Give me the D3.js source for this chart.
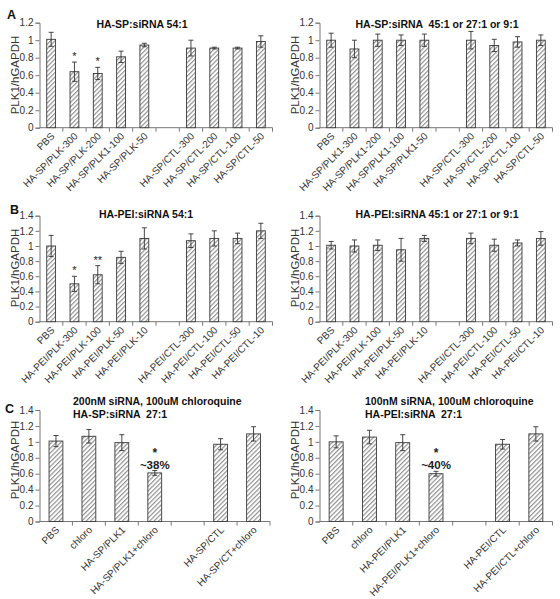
<!DOCTYPE html>
<html><head><meta charset="utf-8">
<script src="https://cdn.jsdelivr.net/npm/d3@7"></script>
<style>
body{margin:0;background:#fff;}
svg{display:block;font-family:"Liberation Sans",Arial,sans-serif;}
text{white-space:pre;}
</style></head>
<body><svg id="chart" width="560" height="599"></svg>
<script>
// ---------- data ----------
const catsA1 = ["PBS","HA-SP/PLK-300","HA-SP/PLK-200","HA-SP/PLK1-100","HA-SP/PLK-50","","HA-SP/CTL-300","HA-SP/CTL-200","HA-SP/CTL-100","HA-SP/CTL-50"];
const valsA1 = [1.01,0.64,0.62,0.81,0.945,null,0.91,0.91,0.91,0.985];
const errA1  = [0.08,0.11,0.07,0.065,0.02,null,0.09,0.01,0.01,0.065];
const starsA1 = ["","*","*","","","","","","",""];

const catsA2 = ["PBS","HA-SP/PLK1-300","HA-SP/PLK1-200","HA-SP/PLK1-100","HA-SP/PLK1-50","","HA-SP/CTL-300","HA-SP/CTL-200","HA-SP/CTL-100","HA-SP/CTL-50"];
const valsA2 = [1.0,0.9,1.0,1.0,1.0,null,1.0,0.94,0.98,1.0];
const errA2  = [0.08,0.1,0.07,0.06,0.07,null,0.1,0.07,0.06,0.06];
const starsA2 = ["","","","","","","","","",""];

const catsB1 = ["PBS","HA-PEI/PLK-300","HA-PEI/PLK-100","HA-PEI/PLK-50","HA-PEI/PLK-10","","HA-PEI/CTL-300","HA-PEI/CTL-100","HA-PEI/CTL-50","HA-PEI/CTL-10"];
const valsB1 = [1.0,0.5,0.62,0.85,1.1,null,1.07,1.1,1.1,1.2];
const errB1  = [0.14,0.1,0.12,0.08,0.14,null,0.09,0.1,0.07,0.1];
const starsB1 = ["","*","**","","","","","","",""];

const catsB2 = ["PBS","HA-PEI/PLK-300","HA-PEI/PLK-100","HA-PEI/PLK-50","HA-PEI/PLK-10","","HA-PEI/CTL-300","HA-PEI/CTL-100","HA-PEI/CTL-50","HA-PEI/CTL-10"];
const valsB2 = [1.01,1.0,1.01,0.95,1.1,null,1.1,1.01,1.04,1.1];
const errB2  = [0.05,0.08,0.07,0.15,0.04,null,0.07,0.08,0.04,0.09];
const starsB2 = ["","","","","","","","","",""];

const catsC1 = ["PBS","chloro","HA-SP/PLK1","HA-SP/PLK1+chloro","","HA-SP/CTL","HA-SP/CT+chloro"];
const valsC1 = [1.01,1.07,0.99,0.61,null,0.97,1.1];
const errC1  = [0.07,0.085,0.1,0.03,null,0.07,0.09];
const starsC1 = ["","","","*","","",""];
const notesC1 = ["","","","~38%","","",""];

const catsC2 = ["PBS","chloro","HA-PEI/PLK1","HA-PEI/PLK1+chloro","","HA-PEI/CTL","HA-PEI/CTL+chloro"];
const valsC2 = [1.0,1.06,0.99,0.6,null,0.97,1.1];
const errC2  = [0.075,0.085,0.1,0.03,null,0.06,0.09];
const starsC2 = ["","","","*","","",""];
const notesC2 = ["","","","~40%","","",""];

const yTicksA = [0,0.2,0.4,0.6,0.8,1,1.2];
const yTicksBC = [0,0.2,0.4,0.6,0.8,1,1.2,1.4];

const titlesA = ["HA-SP:siRNA 54:1","HA-SP:siRNA  45:1 or 27:1 or 9:1"];
const titlesB = ["HA-PEI:siRNA 54:1","HA-PEI:siRNA 45:1 or 27:1 or 9:1"];
const titlesC1 = ["200nM siRNA, 100uM chloroquine","HA-SP:siRNA  27:1"];
const titlesC2 = ["100nM siRNA, 100uM chloroquine","HA-PEI:siRNA  27:1"];
const yLabel = "PLK1/hGAPDH";
const panelLetters = ["A","B","C"];

// ---------- drawing ----------
const svg = d3.select("#chart");
svg.append("rect").attr("width",560).attr("height",599).attr("fill","#fff");
const defs = svg.append("defs");
const pat = defs.append("pattern").attr("id","hatch").attr("patternUnits","userSpaceOnUse")
  .attr("width",3.2).attr("height",3.2).attr("patternTransform","rotate(45)");
pat.append("rect").attr("width",3.2).attr("height",3.2).attr("fill","#fff");
pat.append("line").attr("x1",0.6).attr("y1",0).attr("x2",0.6).attr("y2",3.2)
  .attr("stroke","#8a8a8a").attr("stroke-width",1.1);

const axisColor = "#777", textColor = "#333";

function panel(cfg){
  const {cats, vals, errs, stars, notes, yTicks, ymax, x0, x1, yTop, yBot, barFrac} = cfg;
  const g = svg.append("g");
  const x = d3.scaleBand().domain(d3.range(cats.length)).range([x0,x1]).padding(0);
  const y = d3.scaleLinear().domain([0,ymax]).range([yBot,yTop]);
  const bw = x.bandwidth()*barFrac;

  // y axis
  const ya = g.append("g").attr("transform",`translate(${x0},0)`)
    .call(d3.axisLeft(y).tickValues(yTicks).tickSize(4).tickPadding(2).tickFormat(d=>String(d)));
  ya.select(".domain").attr("stroke",axisColor);
  ya.selectAll(".tick line").attr("stroke",axisColor);
  ya.selectAll("text").attr("fill",textColor).style("font-size","10px")
    .style("font-family","'Liberation Sans',Arial,sans-serif");

  // x axis line + ticks at category boundaries
  g.append("line").attr("x1",x0).attr("x2",x1).attr("y1",yBot).attr("y2",yBot).attr("stroke",axisColor);
  const bounds = d3.range(cats.length+1).map(i => i<cats.length ? x(i) : x1);
  g.selectAll(".xt").data(bounds.slice(1)).join("line").attr("class","xt")
    .attr("x1",d=>d).attr("x2",d=>d).attr("y1",yBot).attr("y2",yBot+4).attr("stroke",axisColor);

  // x labels
  g.selectAll(".xl").data(cats.map((c,i)=>({c,i})).filter(d=>d.c!=="")).join("text").attr("class","xl")
    .attr("transform",d=>`translate(${x(d.i)+x.bandwidth()/2+4},${yBot+9}) rotate(-45)`)
    .attr("text-anchor","end").attr("fill",textColor).style("font-size","10px").text(d=>d.c);

  const data = vals.map((v,i)=>({v,e:errs[i],s:stars[i],n:notes?notes[i]:"",i})).filter(d=>d.v!==null);
  // bars
  g.selectAll(".bar").data(data).join("rect").attr("class","bar")
    .attr("x",d=>x(d.i)+x.bandwidth()/2-bw/2).attr("width",bw)
    .attr("y",d=>y(d.v)).attr("height",d=>yBot-y(d.v))
    .attr("fill","url(#hatch)").attr("stroke","#3a3a3a").attr("stroke-width",0.9);
  // error bars
  const eb = g.selectAll(".eb").data(data).join("g").attr("class","eb")
    .attr("transform",d=>`translate(${x(d.i)+x.bandwidth()/2},0)`).attr("stroke","#333").attr("stroke-width",0.9);
  eb.append("line").attr("y1",d=>y(d.v-d.e)).attr("y2",d=>y(d.v+d.e));
  eb.append("line").attr("x1",-2.5).attr("x2",2.5).attr("y1",d=>y(d.v+d.e)).attr("y2",d=>y(d.v+d.e));
  eb.append("line").attr("x1",-2.5).attr("x2",2.5).attr("y1",d=>y(d.v-d.e)).attr("y2",d=>y(d.v-d.e));

  // stars
  const big = cfg.bigStars;
  g.selectAll(".st").data(data.filter(d=>d.s)).join("text").attr("class","st")
    .attr("x",d=>x(d.i)+x.bandwidth()/2).attr("y",d=>y(d.v+d.e)-(d.n?14:2))
    .attr("text-anchor","middle").attr("fill","#222")
    .style("font-size",big?"12px":"11px").style("font-weight",big?"bold":"normal").text(d=>d.s);
  g.selectAll(".nt").data(data.filter(d=>d.n)).join("text").attr("class","nt")
    .attr("x",d=>x(d.i)+x.bandwidth()/2).attr("y",d=>y(d.v+d.e)-2)
    .attr("text-anchor","middle").attr("fill","#222")
    .style("font-size","11.5px").style("font-weight","bold").text(d=>d.n);

  // y label
  g.append("text").attr("transform",`translate(${x0-21},${cfg.yLabelY}) rotate(-90)`)
    .attr("text-anchor","middle").attr("fill",textColor).style("font-size","11.5px").text(yLabel);

  // titles
  if(cfg.titleCenter){
    g.append("text").attr("x",cfg.titleCenter).attr("y",cfg.titleY).attr("text-anchor","middle")
      .attr("fill","#111").style("font-size","10.5px").style("font-weight","bold").text(cfg.title);
  } else {
    cfg.titleLines.forEach((t,k)=>{
      g.append("text").attr("x",cfg.titleLeft).attr("y",cfg.titleY+k*12.5).attr("fill","#111")
        .style("font-size","10.5px").style("font-weight","bold").text(t);
    });
  }
}

const L = {x0:39.5, x1:272.5}, R = {x0:319.5, x1:552.5};
const rowA = {yTop:22.7, yBot:127.7, ymax:1.2, yTicks:yTicksA, barFrac:0.38};
const rowB = {yTop:215.7, yBot:321.7, ymax:1.4, yTicks:yTicksBC, barFrac:0.38};
const rowC = {yTop:410, yBot:521.5, ymax:1.4, yTicks:yTicksBC, barFrac:0.42};

panel({...L,...rowA,cats:catsA1,vals:valsA1,errs:errA1,stars:starsA1,title:titlesA[0],titleCenter:142,titleY:28,yLabelY:75});
panel({...R,...rowA,cats:catsA2,vals:valsA2,errs:errA2,stars:starsA2,title:titlesA[1],titleCenter:437,titleY:28,yLabelY:75});
panel({...L,...rowB,cats:catsB1,vals:valsB1,errs:errB1,stars:starsB1,title:titlesB[0],titleCenter:146,titleY:218,yLabelY:268});
panel({...R,...rowB,cats:catsB2,vals:valsB2,errs:errB2,stars:starsB2,title:titlesB[1],titleCenter:437,titleY:218,yLabelY:268});
panel({...L,...rowC,x1:270,cats:catsC1,vals:valsC1,errs:errC1,stars:starsC1,notes:notesC1,bigStars:true,titleLines:titlesC1,titleLeft:73,titleY:405,yLabelY:460});
panel({...R,...rowC,cats:catsC2,vals:valsC2,errs:errC2,stars:starsC2,notes:notesC2,bigStars:true,titleLines:titlesC2,titleLeft:365,titleY:405,yLabelY:460});

// panel letters
const letterPos = [[7,18.5],[10,214],[5,413]];
svg.selectAll(".pl").data(panelLetters).join("text").attr("class","pl")
  .attr("x",(d,i)=>letterPos[i][0]).attr("y",(d,i)=>letterPos[i][1])
  .attr("fill","#111").style("font-size","12.5px").style("font-weight","bold").text(d=>d);
</script></body></html>
